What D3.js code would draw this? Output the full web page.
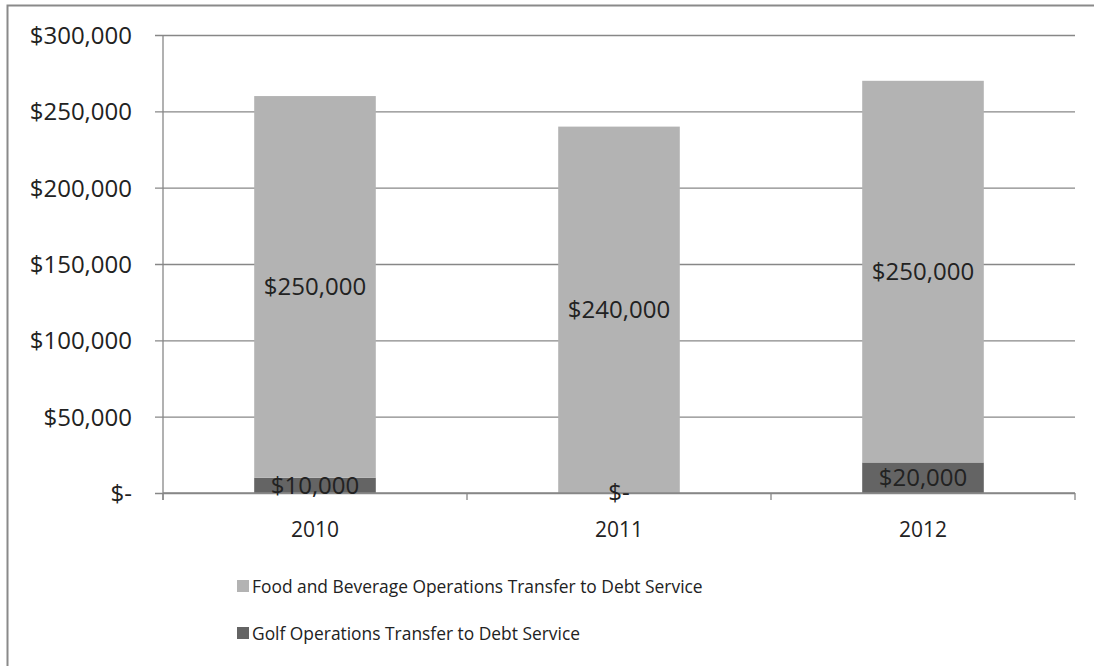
<!DOCTYPE html>
<html>
<head>
<meta charset="utf-8">
<script src="https://cdn.jsdelivr.net/npm/d3@7"></script>
<style>
  html, body { margin: 0; padding: 0; background: #fff; }
  svg { display: block; }
  text { font-family: "Open Sans", "Noto Sans", sans-serif; fill: #222; }
</style>
</head>
<body>
<svg id="chart" width="1094" height="666"></svg>
<script>
// Fiscal years on the category axis
const years = ["2010", "2011", "2012"];
// Stacked series, bottom segment first
const golfValues = [10000, 0, 20000];
const foodValues = [250000, 240000, 250000];
const seriesNames = [
  "Food and Beverage Operations Transfer to Debt Service",
  "Golf Operations Transfer to Debt Service"
];
const yTicks = [0, 50000, 100000, 150000, 200000, 250000, 300000];

const colors = { golf: "#646464", food: "#b3b3b3", grid: "#878787" };

const svg = d3.select("#chart");

// Outer chart frame
svg.append("rect")
  .attr("x", 7.5).attr("y", 5.5)
  .attr("width", 1200).attr("height", 800)
  .attr("fill", "none").attr("stroke", "#8a8a8a").attr("stroke-width", 2);

const plot = { left: 163, right: 1075, top: 35, bottom: 493 };

const x = d3.scaleBand()
  .domain(years)
  .range([plot.left, plot.right])
  .paddingInner(0.6)
  .paddingOuter(0.3);

const y = d3.scaleLinear()
  .domain([0, 300000])
  .range([plot.bottom, plot.top]);

const money = v => v === 0 ? "$-" : "$" + d3.format(",")(v);

// Horizontal gridlines with tick labels
const yAxis = d3.axisLeft(y)
  .tickValues(yTicks)
  .tickFormat(money)
  .tickSize(-(plot.right - plot.left))
  .tickPadding(0);

const gy = svg.append("g")
  .attr("transform", `translate(${plot.left},0)`)
  .call(yAxis);
gy.select(".domain").remove();
gy.selectAll(".tick line")
  .attr("x1", -8)
  .attr("stroke", colors.grid).attr("stroke-width", 1.3);
gy.selectAll(".tick text")
  .attr("x", -31)
  .attr("dy", "0.35em")
  .attr("font-size", 24)
  .attr("fill", "#222")
  .style("font-family", "'Open Sans', 'Noto Sans', sans-serif");

// Vertical value axis line
svg.append("line")
  .attr("x1", plot.left).attr("x2", plot.left)
  .attr("y1", plot.top).attr("y2", plot.bottom + 7)
  .attr("stroke", colors.grid).attr("stroke-width", 1.3);

// Stacked bars
const stackData = years.map((yr, i) => ({ year: yr, golf: golfValues[i], food: foodValues[i] }));
const stack = d3.stack().keys(["golf", "food"]);
const layers = stack(stackData);

const barG = svg.append("g");
layers.forEach(layer => {
  barG.selectAll(null)
    .data(layer)
    .join("rect")
    .attr("x", d => x(d.data.year))
    .attr("width", x.bandwidth())
    .attr("y", d => y(d[1]))
    .attr("height", d => y(d[0]) - y(d[1]))
    .attr("fill", colors[layer.key]);
});

// Category axis along the bottom with between-category tick marks
const xAxisG = svg.append("g");
xAxisG.append("line")
  .attr("x1", plot.left).attr("x2", plot.right)
  .attr("y1", plot.bottom).attr("y2", plot.bottom)
  .attr("stroke", colors.grid).attr("stroke-width", 1.3);
const step = (plot.right - plot.left) / years.length;
d3.range(years.length + 1).forEach(i => {
  xAxisG.append("line")
    .attr("x1", plot.left + i * step).attr("x2", plot.left + i * step)
    .attr("y1", plot.bottom).attr("y2", plot.bottom + 7)
    .attr("stroke", colors.grid).attr("stroke-width", 1.3);
});
xAxisG.selectAll("text.cat")
  .data(years)
  .join("text")
  .attr("class", "cat")
  .attr("x", d => x(d) + x.bandwidth() / 2)
  .attr("y", 530)
  .attr("dy", "0.35em")
  .attr("text-anchor", "middle")
  .attr("font-size", 21)
  .text(d => d);

// Value labels centred in each segment
layers.forEach(layer => {
  svg.selectAll(null)
    .data(layer)
    .join("text")
    .attr("x", d => x(d.data.year) + x.bandwidth() / 2)
    .attr("y", d => y((d[0] + d[1]) / 2))
    .attr("dy", "0.35em")
    .attr("text-anchor", "middle")
    .attr("font-size", 24)
    .attr("fill", "#1a1a1a")
    .text(d => money(d.data[layer.key]));
});

// Legend (text set slightly condensed)
const legendItems = [
  { name: seriesNames[0], color: colors.food },
  { name: seriesNames[1], color: colors.golf }
];
const lg = svg.append("g");
legendItems.forEach((item, i) => {
  const cy = 586 + i * 47;
  lg.append("rect")
    .attr("x", 237).attr("y", cy - 6)
    .attr("width", 12).attr("height", 12)
    .attr("fill", item.color);
  const t = lg.append("text")
    .attr("x", 252).attr("y", cy)
    .attr("dy", "0.35em")
    .attr("font-size", 19)
    .text(item.name);
  const natural = t.node().getComputedTextLength();
  t.attr("textLength", natural * 0.915).attr("lengthAdjust", "spacingAndGlyphs");
});
</script>
</body>
</html>
